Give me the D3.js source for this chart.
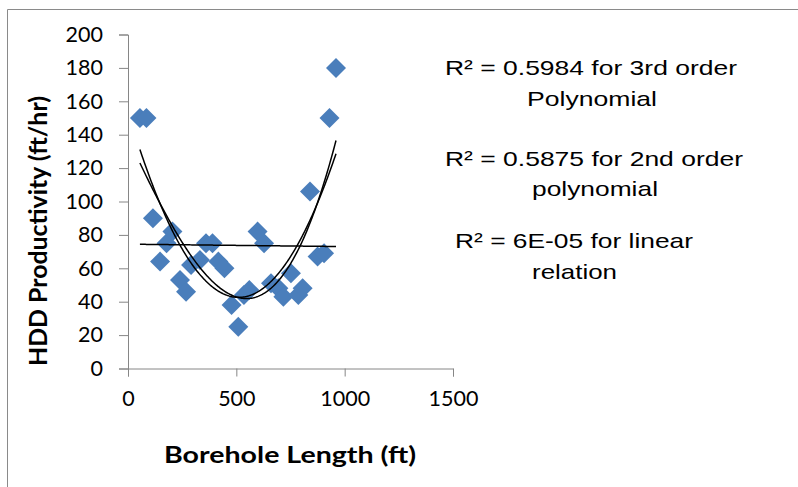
<!DOCTYPE html>
<html>
<head>
<meta charset="utf-8">
<script src="https://cdn.jsdelivr.net/npm/d3@7"></script>
<style>
  body { margin: 0; background: #fff; }
  svg { display: block; }
</style>
</head>
<body>
<svg id="chart"></svg>
<script>
// borehole length (ft) and HDD productivity (ft/hr)
var lengths = [55, 85, 115, 148, 178, 205, 240, 268, 291, 332, 360, 390, 417, 445, 478, 509,
               535, 560, 598, 628, 660, 694, 717, 752, 786, 806, 840, 875, 905, 930, 960];
var productivity = [150, 150, 90, 64, 75, 82, 53, 46, 62, 65, 75, 75, 64, 60, 38, 25,
                    44, 47, 82, 75, 51, 48, 43, 57, 44, 48, 106, 67, 69, 150, 180];

var xTicks = [0, 500, 1000, 1500];
var yTicks = [0, 20, 40, 60, 80, 100, 120, 140, 160, 180, 200];

// trend lines: polynomial order of each
var fitOrders = [3, 2, 1];

var notes = [
  {text: "R² = 0.5984 for 3rd order", x: 445, y: 75, len: 292},
  {text: "Polynomial", x: 527, y: 106, len: 130},
  {text: "R² = 0.5875 for 2nd order", x: 445, y: 166, len: 298},
  {text: "polynomial", x: 532, y: 196, len: 126},
  {text: "R² = 6E-05 for linear", x: 455, y: 248, len: 238},
  {text: "relation", x: 532, y: 279, len: 85}
];

var width = 798;
var height = 487;

var svg = d3.select("svg#chart")
    .attr("width", width)
    .attr("height", height);

// chart area border (left and top visible)
svg.append("path")
    .attr("d", "M7.5," + height + "V9.5H" + width)
    .attr("fill", "none")
    .attr("stroke", "#8a8a8a")
    .attr("stroke-width", 1);

var x = d3.scaleLinear().domain([0, 1500]).range([128, 453]);
var y = d3.scaleLinear().domain([0, 200]).range([368.5, 34.5]);

var xAxis = svg.append("g")
    .attr("transform", "translate(0,368.5)")
    .call(d3.axisBottom(x).tickValues(xTicks).tickFormat(d3.format("d"))
	  .tickSizeOuter(0).tickSize(8).tickPadding(14));

var yAxis = svg.append("g")
    .attr("transform", "translate(128,0)")
    .call(d3.axisLeft(y).tickValues(yTicks).tickFormat(d3.format("d"))
	  .tickSizeOuter(0).tickSize(9).tickPadding(16));

[xAxis, yAxis].forEach(function(g) {
    g.select(".domain").attr("stroke", "#868686");
    g.selectAll(".tick line").attr("stroke", "#868686");
    g.selectAll(".tick text")
	.attr("font-family", "Lato, 'Open Sans', sans-serif")
	.attr("font-size", 21.5)
	.attr("fill", "#000");
});

// axis titles
svg.append("text")
    .text("Borehole Length (ft)")
    .attr("x", 290)
    .attr("y", 463)
    .attr("text-anchor", "middle")
    .attr("font-family", "Lato, 'Open Sans', sans-serif")
    .attr("font-weight", "bold")
    .attr("font-size", 23)
    .attr("textLength", 252)
    .attr("lengthAdjust", "spacingAndGlyphs");

svg.append("text")
    .text("HDD Productivity (ft/hr)")
    .attr("transform", "translate(47,231) rotate(-90)")
    .attr("text-anchor", "middle")
    .attr("font-family", "Lato, 'Open Sans', sans-serif")
    .attr("font-weight", "bold")
    .attr("font-size", 24)
    .attr("textLength", 270)
    .attr("lengthAdjust", "spacingAndGlyphs");

// least squares polynomial fit, x scaled to thousands for stability
var polyfit = function(xs, ys, order) {
    var n = order + 1;
    var A = [];
    for (var i = 0; i < n; i++) {
	A.push(new Array(n + 1).fill(0));
    }
    xs.forEach(function(xv, k) {
	var t = xv / 1000;
	for (var i = 0; i < n; i++) {
	    for (var j = 0; j < n; j++) {
		A[i][j] += Math.pow(t, i + j);
	    }
	    A[i][n] += ys[k] * Math.pow(t, i);
	}
    });
    // gaussian elimination
    for (var c = 0; c < n; c++) {
	var p = c;
	for (var r = c + 1; r < n; r++) {
	    if (Math.abs(A[r][c]) > Math.abs(A[p][c])) p = r;
	}
	var tmp = A[c]; A[c] = A[p]; A[p] = tmp;
	for (var r = c + 1; r < n; r++) {
	    var f = A[r][c] / A[c][c];
	    for (var j = c; j <= n; j++) A[r][j] -= f * A[c][j];
	}
    }
    var coef = new Array(n).fill(0);
    for (var i = n - 1; i >= 0; i--) {
	var s = A[i][n];
	for (var j = i + 1; j < n; j++) s -= A[i][j] * coef[j];
	coef[i] = s / A[i][i];
    }
    return function(xv) {
	var t = xv / 1000, v = 0;
	for (var i = n - 1; i >= 0; i--) v = v * t + coef[i];
	return v;
    };
};

var xMin = d3.min(lengths), xMax = d3.max(lengths);
var samples = d3.range(xMin, xMax, 5).concat([xMax]);

var line = d3.line()
    .x(function(d) { return x(d[0]); })
    .y(function(d) { return y(d[1]); });

// points
svg.append("g").selectAll("path")
    .data(lengths)
    .enter().append("path")
    .attr("d", "M0,-10L10,0L0,10L-10,0Z")
    .attr("transform", function(d, i) {
	return "translate(" + x(d) + "," + y(productivity[i]) + ")";
    })
    .attr("fill", "#4a7ebb");

fitOrders.forEach(function(order) {
    var f = polyfit(lengths, productivity, order);
    svg.append("path")
	.datum(samples.map(function(v) { return [v, f(v)]; }))
	.attr("d", line)
	.attr("fill", "none")
	.attr("stroke", "#000")
	.attr("stroke-width", 1.5);
});

// R² notes
svg.append("g").selectAll("text")
    .data(notes)
    .enter().append("text")
    .text(function(d) { return d.text; })
    .attr("x", function(d) { return d.x; })
    .attr("y", function(d) { return d.y; })
    .attr("font-family", "'Liberation Sans', Arial, sans-serif")
    .attr("font-size", 21)
    .attr("textLength", function(d) { return d.len; })
    .attr("lengthAdjust", "spacingAndGlyphs")
    .attr("fill", "#000");
</script>
</body>
</html>
